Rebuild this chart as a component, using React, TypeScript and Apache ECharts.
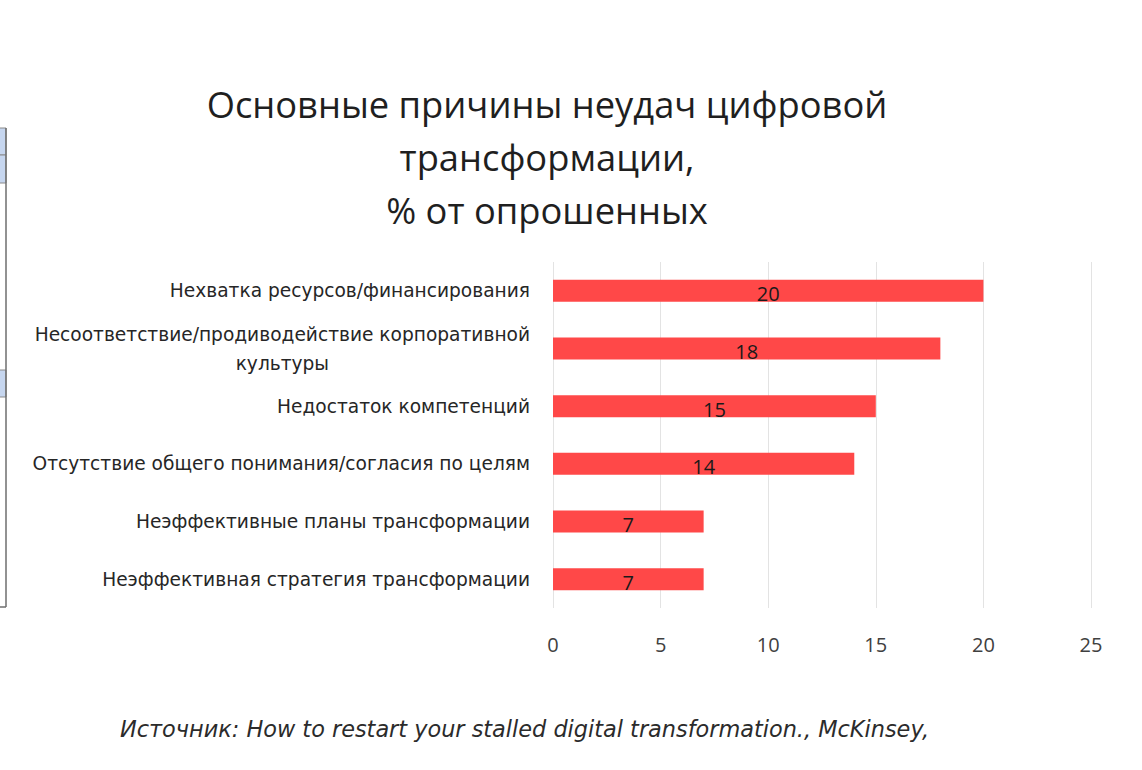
import { useEffect, useRef } from "react";
import * as echarts from "echarts";

const categories = [
  "Нехватка ресурсов/финансирования",
  "Несоответствие/продиводействие корпоративной\nкультуры",
  "Недостаток компетенций",
  "Отсутствие общего понимания/согласия по целям",
  "Неэффективные планы трансформации",
  "Неэффективная стратегия трансформации",
];
const values = [20, 18, 15, 14, 7, 7];

const titleText = "Основные причины неудач цифровой\nтрансформации,\n% от опрошенных";
const sourceText =
  "Источник: How to restart your stalled digital transformation., McKinsey,";

const FONT = "'Open Sans', 'Noto Sans', sans-serif";
const WIDE = "'DejaVu Sans', 'Open Sans', sans-serif";

export default function App() {
  const ref = useRef<HTMLDivElement>(null);

  useEffect(() => {
    if (!ref.current) return;
    const chart = echarts.init(ref.current, null, { renderer: "svg" });

    const catStyle = {
      fontFamily: WIDE,
      fontSize: 18.6,
      color: "#262626",
      lineHeight: 29,
    };

    chart.setOption({
      animation: false,
      backgroundColor: "#ffffff",
      title: {
        text: titleText,
        left: 542,
        top: 72,
        textAlign: "center",
        textStyle: {
          fontFamily: FONT,
          fontSize: 36.3,
          fontWeight: "normal",
          color: "#1f1f1f",
          lineHeight: 53,
        },
      },
      grid: { left: 553, right: 51, top: 262, bottom: 162 },
      xAxis: {
        type: "value",
        min: 0,
        max: 25,
        interval: 5,
        axisLine: { show: false },
        axisTick: { show: false },
        splitLine: { lineStyle: { color: "#e3e3e3", width: 1 } },
        axisLabel: {
          margin: 26,
          fontFamily: FONT,
          fontSize: 20,
          color: "#404040",
        },
      },
      yAxis: {
        type: "category",
        data: categories,
        inverse: true,
        axisLine: { show: false },
        axisTick: { show: false },
        axisLabel: {
          margin: 23,
          ...catStyle,
          formatter: (v: string) => {
            const parts = v.split("\n");
            if (parts.length === 1) return v;
            return "{a|" + parts[0] + "}\n{c|" + parts[1] + "}";
          },
          rich: {
            a: { ...catStyle },
            c: { ...catStyle, align: "center" },
          },
        },
      },
      series: [
        {
          type: "bar",
          data: values,
          barWidth: 22,
          itemStyle: { color: "#ff4848" },
          label: {
            show: true,
            position: "inside",
            offset: [0, 3],
            fontFamily: FONT,
            fontSize: 20,
            color: "#1a1a1a",
          },
        },
      ],
      graphic: [
        {
          type: "rect",
          shape: { x: -2, y: 128, width: 8, height: 27 },
          style: { fill: "#c6d6ef", stroke: "#8a8a8a", lineWidth: 1 },
        },
        {
          type: "rect",
          shape: { x: -2, y: 155, width: 8, height: 28 },
          style: { fill: "#c6d6ef", stroke: "#8a8a8a", lineWidth: 1 },
        },
        {
          type: "rect",
          shape: { x: -2, y: 370, width: 8, height: 27 },
          style: { fill: "#c6d6ef", stroke: "#8a8a8a", lineWidth: 1 },
        },
        {
          type: "line",
          shape: { x1: 6, y1: 128, x2: 6, y2: 607 },
          style: { stroke: "#6e6e6e", lineWidth: 1.5 },
        },
        {
          type: "line",
          shape: { x1: 0, y1: 607, x2: 6, y2: 607 },
          style: { stroke: "#6e6e6e", lineWidth: 1.5 },
        },
        {
          type: "text",
          left: 120,
          top: 718,
          style: {
            text: sourceText,
            fontFamily: WIDE,
            fontStyle: "italic",
            fontSize: 22.4,
            fill: "#2b2b2b",
          },
        },
      ],
    });

    return () => chart.dispose();
  }, []);

  return (
    <div
      ref={ref}
      style={{ position: "fixed", left: 0, top: 0, width: 1142, height: 770 }}
    />
  );
}
